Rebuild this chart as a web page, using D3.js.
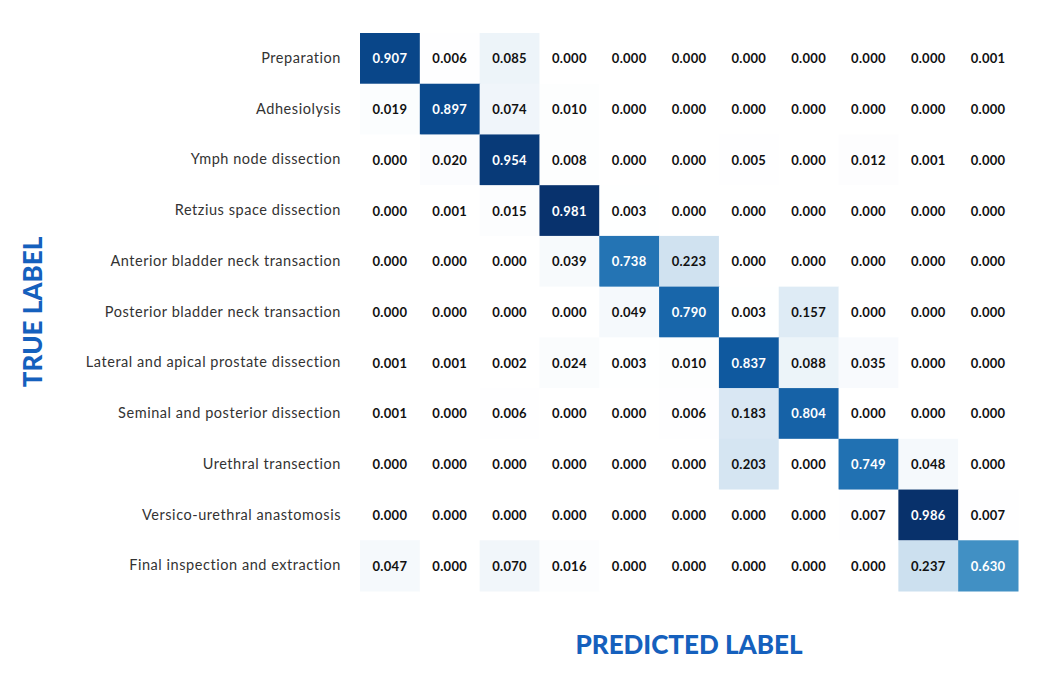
<!DOCTYPE html>
<html>
<head>
<meta charset="utf-8">
<script src="https://cdn.jsdelivr.net/npm/d3@7"></script>
<style>
  body { margin: 0; background: #fff; }
  svg { display: block; }
</style>
</head>
<body>
<svg id="chart"></svg>
<script>
// class names (rows = true label, columns = predicted label, same order)
const classes = [
  "Preparation",
  "Adhesiolysis",
  "Ymph node dissection",
  "Retzius space dissection",
  "Anterior bladder neck transaction",
  "Posterior bladder neck transaction",
  "Lateral and apical prostate dissection",
  "Seminal and posterior dissection",
  "Urethral transection",
  "Versico-urethral anastomosis",
  "Final inspection and extraction"
];

// normalised confusion matrix, one row per true class
const matrix = [
  [0.907, 0.006, 0.085, 0.000, 0.000, 0.000, 0.000, 0.000, 0.000, 0.000, 0.001],
  [0.019, 0.897, 0.074, 0.010, 0.000, 0.000, 0.000, 0.000, 0.000, 0.000, 0.000],
  [0.000, 0.020, 0.954, 0.008, 0.000, 0.000, 0.005, 0.000, 0.012, 0.001, 0.000],
  [0.000, 0.001, 0.015, 0.981, 0.003, 0.000, 0.000, 0.000, 0.000, 0.000, 0.000],
  [0.000, 0.000, 0.000, 0.039, 0.738, 0.223, 0.000, 0.000, 0.000, 0.000, 0.000],
  [0.000, 0.000, 0.000, 0.000, 0.049, 0.790, 0.003, 0.157, 0.000, 0.000, 0.000],
  [0.001, 0.001, 0.002, 0.024, 0.003, 0.010, 0.837, 0.088, 0.035, 0.000, 0.000],
  [0.001, 0.000, 0.006, 0.000, 0.000, 0.006, 0.183, 0.804, 0.000, 0.000, 0.000],
  [0.000, 0.000, 0.000, 0.000, 0.000, 0.000, 0.203, 0.000, 0.749, 0.048, 0.000],
  [0.000, 0.000, 0.000, 0.000, 0.000, 0.000, 0.000, 0.000, 0.007, 0.986, 0.007],
  [0.047, 0.000, 0.070, 0.016, 0.000, 0.000, 0.000, 0.000, 0.000, 0.237, 0.630]
];

const xTitle = "PREDICTED LABEL";
const yTitle = "TRUE LABEL";

const width = 1044;
const height = 681;
const margin = { top: 33, right: 26, bottom: 90, left: 360 };

const svg = d3.select("#chart")
  .attr("width", width)
  .attr("height", height);

const idx = d3.range(classes.length).map(String);

const x = d3.scaleBand()
  .domain(idx)
  .range([margin.left, width - margin.right]);

const y = d3.scaleBand()
  .domain(idx)
  .range([margin.top, height - margin.bottom]);

const maxVal = d3.max(matrix.flat());
const blues = d3.scaleSequential(d3.interpolateBlues).domain([0, maxVal]);
// the picture is a bit washed out at the low end: push the palest blue to white
const color = v => {
  const c = d3.rgb(blues(v));
  return d3.rgb(
    Math.min(255, c.r * 255 / 247),
    Math.min(255, c.g * 255 / 251),
    c.b
  ).formatHex();
};

// flatten for cells
const cells = [];
matrix.forEach((row, i) => row.forEach((v, j) => cells.push({ i, j, v })));

const g = svg.append("g");

g.selectAll("rect")
  .data(cells)
  .join("rect")
  .attr("x", d => x(String(d.j)))
  .attr("y", d => y(String(d.i)))
  .attr("width", x.bandwidth() + 0.5)
  .attr("height", y.bandwidth() + 0.5)
  .attr("fill", d => color(d.v));

g.selectAll("text")
  .data(cells)
  .join("text")
  .attr("x", d => x(String(d.j)) + x.bandwidth() / 2)
  .attr("y", d => y(String(d.i)) + y.bandwidth() / 2)
  .attr("text-anchor", "middle")
  .attr("dominant-baseline", "central")
  .attr("font-family", "Lato, 'Noto Sans', sans-serif")
  .attr("font-weight", "bold")
  .attr("font-size", 13)
  .attr("letter-spacing", 0.3)
  .attr("fill", d => d.v > maxVal / 2 ? "#fff" : "#111")
  .text(d => d.v.toFixed(3));

// row labels (true label)
const yAxis = d3.axisLeft(y)
  .tickSize(0)
  .tickPadding(19)
  .tickFormat(d => classes[+d]);

svg.append("g")
  .attr("transform", `translate(${margin.left},0)`)
  .call(yAxis)
  .call(ax => ax.select(".domain").remove())
  .selectAll("text")
  .attr("font-family", "'Century Gothic', Lato, 'Noto Sans', sans-serif")
  .attr("font-size", 14.5)
  .attr("letter-spacing", 0.55)
  .attr("fill", "#333");

// axis titles
svg.append("text")
  .attr("x", 689)
  .attr("y", 654)
  .attr("text-anchor", "middle")
  .attr("font-family", "Lato, 'Open Sans', sans-serif")
  .attr("font-weight", "900")
  .attr("font-size", 26)
  .attr("fill", "#1560bd")
  .text(xTitle);

svg.append("text")
  .attr("transform", "translate(42,312) rotate(-90)")
  .attr("text-anchor", "middle")
  .attr("font-family", "Lato, 'Open Sans', sans-serif")
  .attr("font-weight", "900")
  .attr("font-size", 26)
  .attr("fill", "#1560bd")
  .text(yTitle);
</script>
</body>
</html>
